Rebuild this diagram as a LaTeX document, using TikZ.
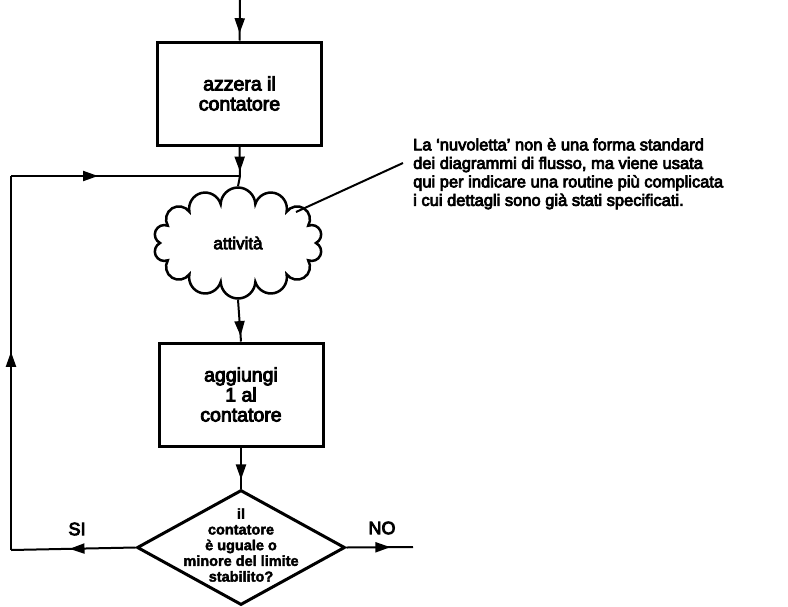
\documentclass[tikz,border=0pt]{standalone}
\usepackage{fontspec}
\setmainfont[FakeBold=3]{Liberation Sans}
\newfontfamily\heavy[FakeBold=4.5]{Liberation Sans}
\newfontfamily\dfont[FakeBold=2.5]{Liberation Sans Bold}
\usetikzlibrary{shapes.geometric,shapes.symbols,arrows.meta,decorations.markings}
\tikzset{
  box/.style={draw, line width=3pt, minimum width=164pt, minimum height=103pt, inner sep=0pt, align=center, font=\heavy\fontsize{19.5}{20}\selectfont},
  conn/.style={line width=2pt},
  midarrow/.style={postaction={decorate,decoration={markings,mark=at position #1 with {\arrow{Triangle[length=15pt,width=10pt]}}}}},
  lbl/.style={font=\heavy\fontsize{18}{20}\selectfont, inner sep=0pt}
}
\begin{document}
\begin{tikzpicture}[x=1pt,y=-1pt]
\useasboundingbox (0,0) rectangle (788,606);
\coordinate (start) at (240,0);
\node[box] (b1) at (239.5,93.5) {azzera il\\contatore};
\coordinate (junc) at (240,176);
\node[cloud, draw, line width=2.5pt, cloud puffs=14, cloud puff arc=175, minimum width=169pt, minimum height=111pt, inner sep=0pt, aspect=1.5, font=\heavy\fontsize{17}{18}\selectfont] (cl) at (238,243) {attività};
\node[box] (b2) at (241,394.5) {aggiungi\\1 al\\contatore};
\node[diamond, draw, line width=3pt, minimum width=208pt, minimum height=115pt, inner sep=0pt, aspect=1.8] (dia) at (241,547.5) {};
\node[align=center, font=\dfont\fontsize{14.5}{15.7}\selectfont, inner sep=0pt] (dtxt) at (241,545) {il\\contatore\\è uguale o\\minore del limite\\stabilito?};
\coordinate (bl) at (11,550);
\coordinate (tl) at (11,176);
\coordinate (noend) at (413,547);
\coordinate (notestart) at (296,212);
\coordinate (noteend) at (403,163);

\draw[conn, midarrow=0.82] (start) -- (b1.north);
\draw[conn, midarrow=0.85] (b1.south) -- (junc);
\draw[conn] (junc) -- (cl.north);
\draw[conn, midarrow=0.87] (cl.south) -- (b2.north);
\draw[conn, midarrow=0.78] (b2.south) -- (dia.north);
\draw[conn, midarrow=0.53] (dia.west) -- (bl);
\draw[conn, midarrow=0.53] (bl) -- (tl);
\draw[conn, midarrow=0.38] (tl) -- (junc);
\draw[conn, midarrow=0.66] (dia.east) -- (noend);
\draw[conn] (notestart) -- (noteend);

\node[lbl] (si) at (77,529) {SI};
\node[lbl] (no) at (382,528) {NO};
\node[anchor=north west, align=left, inner sep=0pt, font=\heavy\fontsize{16.5}{18.5}\selectfont] (note) at (413,138) {La ‘nuvoletta’ non è una forma standard\\dei diagrammi di flusso, ma viene usata\\qui per indicare una routine più complicata\\i cui dettagli sono già stati specificati.};
\end{tikzpicture}
\end{document}
